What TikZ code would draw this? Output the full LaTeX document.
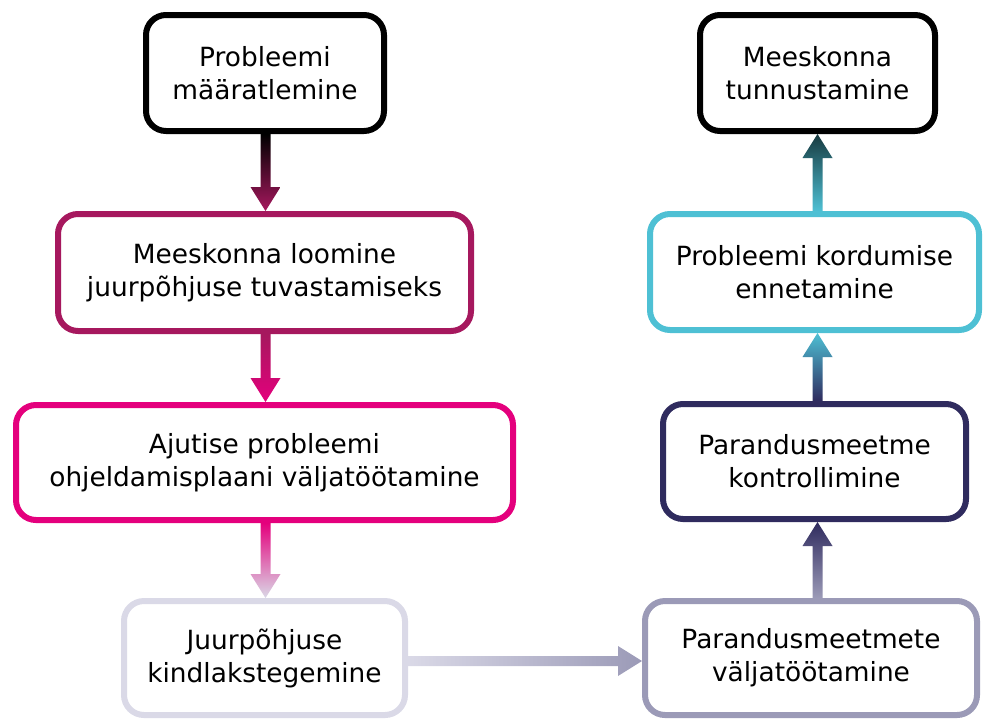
\documentclass[tikz,border=0pt]{standalone}
\usepackage{fontspec}
\setmainfont{DejaVu Sans}
\usetikzlibrary{calc}
\definecolor{cA}{HTML}{000000}
\definecolor{cB}{HTML}{A6185E}
\definecolor{cC}{HTML}{E4007D}
\definecolor{cD}{HTML}{DAD9E7}
\definecolor{cE}{HTML}{9B9AB7}
\definecolor{cF}{HTML}{2F2B5E}
\definecolor{cG}{HTML}{4EC0D4}
\newcommand\flowarrow[3]{%
  \path (#1) coordinate (fs) (#2) coordinate (ft);
  \path ($(ft)!18pt!(fs)$) coordinate (fh);
  \shade[#3] ($(fs)!3.75pt!90:(ft)$) -- ($(fh)!3.75pt!-90:(fs)$) -- ($(fh)!11.25pt!-90:(fs)$) -- (ft)
    -- ($(fh)!11.25pt!90:(fs)$) -- ($(fh)!3.75pt!90:(fs)$) -- ($(fs)!3.75pt!-90:(ft)$) -- cycle;
}
\begin{document}
\begin{tikzpicture}[x=0.75pt,y=-0.75pt,
  box/.style={draw=#1,line width=4.5pt,rounded corners=15pt,fill=white,align=center,
    font=\fontsize{19.8}{24.75}\selectfont,inner sep=0pt}]
\useasboundingbox (0,0) rectangle (984,722);
\coordinate (lc) at (265.5,0);
\coordinate (rc) at (817.5,0);
\node[box=cA,minimum width=178.5pt,minimum height=87pt] (n1) at (265,73) {Probleemi\\määratlemine};
\node[box=cB,minimum width=309.75pt,minimum height=87.75pt] (n2) at (264.5,272.5) {Meeskonna loomine\\juurpõhjuse tuvastamiseks};
\node[box=cC,minimum width=372.75pt,minimum height=86.25pt] (n3) at (264.5,462.5) {Ajutise probleemi\\ohjeldamisplaani väljatöötamine};
\node[box=cD,minimum width=210.75pt,minimum height=85.5pt] (n4) at (264.5,658) {Juurpõhjuse\\kindlakstegemine};
\node[box=cE,minimum width=249pt,minimum height=85.5pt] (n5) at (811,658) {Parandusmeetmete\\väljatöötamine};
\node[box=cF,minimum width=227.25pt,minimum height=86.25pt] (n6) at (814.5,461.5) {Parandusmeetme\\kontrollimine};
\node[box=cG,minimum width=246.75pt,minimum height=87pt] (n7) at (814.5,272) {Probleemi kordumise\\ennetamine};
\node[box=cA,minimum width=176.25pt,minimum height=87pt] (n8) at (817.5,73) {Meeskonna\\tunnustamine};
\flowarrow{n1.south -| lc}{n2.north -| lc}{top color=cA,bottom color=cB}
\flowarrow{n2.south -| lc}{n3.north -| lc}{top color=cB,bottom color=cC}
\flowarrow{n3.south -| lc}{n4.north -| lc}{top color=cC,bottom color=cD}
\flowarrow{$(n4.east)+(0,3)$}{$(n5.west)+(0,3)$}{left color=cD,right color=cE}
\flowarrow{n5.north -| rc}{n6.south -| rc}{bottom color=cE,top color=cF}
\flowarrow{n6.north -| rc}{n7.south -| rc}{bottom color=cF,top color=cG}
\flowarrow{n7.north -| rc}{n8.south -| rc}{bottom color=cG,top color=cA!70!cG}
\end{tikzpicture}
\end{document}
